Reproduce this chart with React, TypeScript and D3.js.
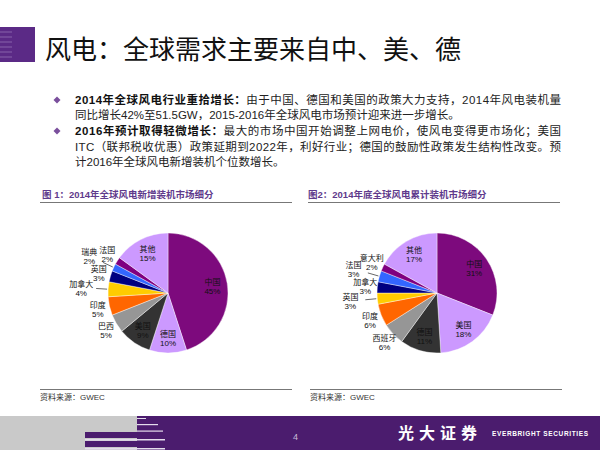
import React from 'react';
import * as d3 from 'd3';

const fig1Labels = ['中国', '德国', '美国', '巴西', '印度', '加拿大', '英国', '瑞典', '法国', '其他'];
const fig1Values = [45, 10, 9, 5, 5, 4, 3, 2, 2, 15];
const fig2Labels = ['中国', '美国', '德国', '西班牙', '印度', '英国', '加拿大', '法国', '意大利', '其他'];
const fig2Values = [31, 18, 11, 6, 6, 3, 3, 3, 2, 17];
// excel-style palette, same slice order in both charts
const sliceColors = ['#7d0a7d', '#cc99ff', '#333333', '#969696', '#ff6600', '#ffcc00', '#000080', '#3366ff', '#800080', '#cc99ff'];

const pageTitle = '风电：全球需求主要来自中、美、德';
const fig1Title = '图 1：2014年全球风电新增装机市场细分';
const fig2Title = '图2：2014年底全球风电累计装机市场细分';
const sourceText = '资料来源：GWEC';

const bullets = [
  {
    lines: [
      { bold: '2014年全球风电行业重拾增长：', text: '由于中国、德国和美国的政策大力支持，2014年风电装机量', justify: true },
      { bold: '', text: '同比增长42%至51.5GW，2015-2016年全球风电市场预计迎来进一步增长。', justify: false },
    ],
  },
  {
    lines: [
      { bold: '2016年预计取得轻微增长：', text: '最大的市场中国开始调整上网电价，使风电变得更市场化；美国', justify: true },
      { bold: '', text: 'ITC（联邦税收优惠）政策延期到2022年，利好行业；德国的鼓励性政策发生结构性改变。预', justify: true },
      { bold: '', text: '计2016年全球风电新增装机个位数增长。', justify: false },
    ],
  },
];

const FONT = '"Liberation Sans", Arial, "Noto Sans CJK SC", sans-serif';
const PURPLE = '#4b1c6e';

interface PieProps {
  labels: string[];
  values: number[];
  cx: number;
  cy: number;
  r: number;
}

const Pie: React.FC<PieProps> = ({ labels, values, cx, cy, r }) => {
  const pie = d3.pie<number>().sort(null).value(d => d);
  const arcs = pie(values);
  const arc = d3.arc<d3.PieArcDatum<number>>().innerRadius(0).outerRadius(r);

  let smallIdx = 0;
  const labelItems = arcs.map((a, i) => {
    const mid = (a.startAngle + a.endAngle) / 2;
    const dx = Math.sin(mid);
    const dy = -Math.cos(mid);
    let lr = r * 0.75;
    let leader = false;
    if (a.data < 9) {
      lr = r * 1.2;
      if (a.data <= 4) {
        if (smallIdx % 2 === 0) {
          lr = r * 1.45;
          leader = true;
        }
        smallIdx++;
      }
    }
    return { i, x: dx * lr, y: dy * lr, dx, dy, lr, leader };
  });

  return (
    <g transform={`translate(${cx},${cy})`}>
      {arcs.map((a, i) => (
        <path key={i} d={arc(a) || ''} fill={sliceColors[i]} stroke="#ffffff" strokeWidth={0.4} />
      ))}
      {labelItems.map(l => (
        <g key={l.i}>
          {l.leader && (
            <line
              x1={l.dx * (r + 1)}
              y1={l.dy * (r + 1)}
              x2={l.dx * (l.lr - 15)}
              y2={l.dy * (l.lr - 15)}
              stroke="#000"
              strokeWidth={0.6}
            />
          )}
          <text x={l.x} y={l.y - 1} textAnchor="middle" fontSize={8} fontFamily={FONT} fill="#111">
            {labels[l.i]}
          </text>
          <text x={l.x} y={l.y + 8} textAnchor="middle" fontSize={8} fontFamily={FONT} fill="#111">
            {values[l.i]}%
          </text>
        </g>
      ))}
    </g>
  );
};

export default function App() {
  const lineYs = [[104, 119], [135, 151, 166]];
  return (
    <svg
      width={600}
      height={450}
      style={{ position: 'absolute', left: 0, top: 0, background: '#fff' }}
    >
      <rect x={0} y={0} width={600} height={450} fill="#fff" />
      {/* header block */}
      <rect x={0} y={27} width={35} height={35} fill="#5b2a86" />
      {[31, 36, 41, 46, 51, 56].map(y => (
        <rect key={y} x={0} y={y} width={12} height={2} fill="#7a52a0" opacity={0.7} />
      ))}
      <text x={45} y={59} fontSize={26} fontFamily='"Noto Sans CJK SC", sans-serif' fill="#111">
        {pageTitle}
      </text>

      {/* bullets */}
      {bullets.map((b, bi) => (
        <g key={bi}>
          <path
            d={`M57,${lineYs[bi][0] - 7.5} l3.5,3.5 l-3.5,3.5 l-3.5,-3.5 z`}
            fill="#7a4f9c"
          />
          {b.lines.map((ln, li) => (
            <text
              key={li}
              x={75}
              y={lineYs[bi][li]}
              fontSize={11.5}
              fontFamily={FONT}
              fill="#222"
              {...(ln.justify ? { textLength: 486, lengthAdjust: 'spacing' } : {})}
            >
              {ln.bold && <tspan fontWeight="bold" fill="#111">{ln.bold}</tspan>}
              <tspan>{ln.text}</tspan>
            </text>
          ))}
        </g>
      ))}

      {/* figure titles */}
      <text x={42} y={198} fontSize={9.5} fontWeight="bold" fontFamily={FONT} fill="#5f3a8c">{fig1Title}</text>
      <line x1={40} x2={292} y1={202.5} y2={202.5} stroke="#777" strokeWidth={1} />
      <text x={308} y={198} fontSize={9.5} fontWeight="bold" fontFamily={FONT} fill="#5f3a8c">{fig2Title}</text>
      <line x1={308} x2={560} y1={202.5} y2={202.5} stroke="#777" strokeWidth={1} />

      <Pie labels={fig1Labels} values={fig1Values} cx={168} cy={293} r={60} />
      <Pie labels={fig2Labels} values={fig2Values} cx={437} cy={293} r={60} />

      {/* sources */}
      <line x1={40} x2={292} y1={389.5} y2={389.5} stroke="#777" strokeWidth={1} />
      <text x={40} y={400} fontSize={8} fontFamily={FONT} fill="#333">{sourceText}</text>
      <line x1={310} x2={562} y1={389.5} y2={389.5} stroke="#777" strokeWidth={1} />
      <text x={310} y={400} fontSize={8} fontFamily={FONT} fill="#333">{sourceText}</text>

      {/* footer */}
      <rect x={0} y={416} width={600} height={34} fill="#c9c9c9" />
      <rect x={137} y={416} width={463} height={34} fill={PURPLE} />
      <rect x={85} y={432} width={80} height={6} fill={PURPLE} />
      <rect x={85} y={441} width={80} height={6} fill={PURPLE} />
      <rect x={137} y={418} width={9} height={1} fill="#e4dcec" />
      <rect x={137} y={424} width={21} height={1.2} fill="#e4dcec" />
      <rect x={137} y={430.5} width={26} height={1.2} fill="#e4dcec" />
      <rect x={85} y={439} width={80} height={1.5} fill="#e4dcec" />
      <rect x={85} y={448} width={80} height={1.5} fill="#e4dcec" />
      <text x={293} y={440} fontSize={9} fontFamily={FONT} fill="#c8bcd8">4</text>
      <text x={398} y={439} fontSize={16} fontWeight="bold" fontFamily='"Noto Sans CJK SC", serif' fill="#fff" textLength={79} lengthAdjust="spacing">光大证券</text>
      <text x={492} y={436} fontSize={6.5} fontWeight="bold" fontFamily={FONT} fill="#fff" textLength={96} lengthAdjust="spacing">EVERBRIGHT SECURITIES</text>
    </svg>
  );
}
